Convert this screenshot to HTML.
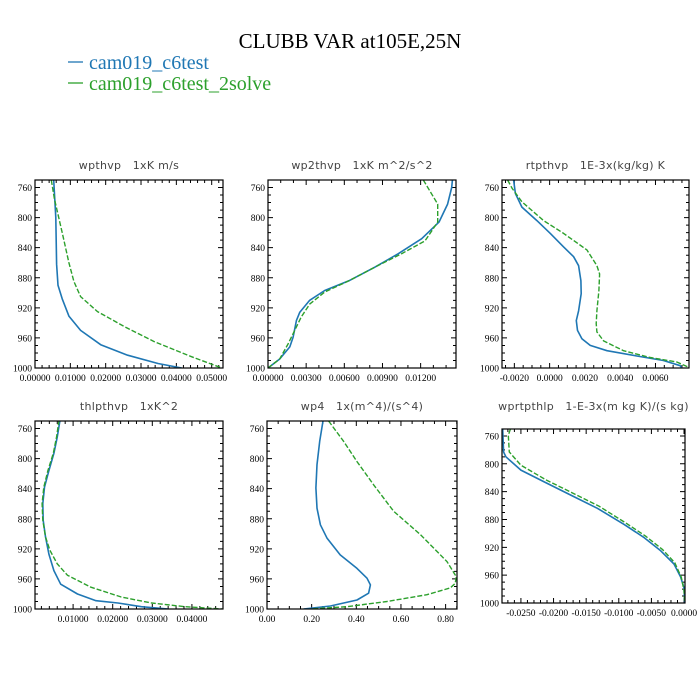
<!DOCTYPE html>
<html><head><meta charset="utf-8"><style>
html,body{margin:0;padding:0;background:#fff;}
svg{display:block;}
.tt{font-family:"Liberation Serif",serif;}
.pt{font-family:"DejaVu Sans","Liberation Sans",sans-serif;font-size:11px;fill:#444;white-space:pre;letter-spacing:0.3px;}
.tl{font-family:"Liberation Serif",serif;font-size:9.5px;fill:#000;}
</style></head><body>
<svg id="chart" width="700" height="700" viewBox="0 0 700 700">
<text class="tt" x="350" y="48" font-size="21" text-anchor="middle">CLUBB VAR at105E,25N</text>
<g>
<line x1="68" y1="62" x2="83" y2="62" stroke="#1f77b4" stroke-width="1.3"/>
<text class="tt" x="89" y="69" font-size="20" fill="#1f77b4">cam019_c6test</text>
<line x1="68" y1="83" x2="83" y2="83" stroke="#2ca02c" stroke-width="1.3"/>
<text class="tt" x="89" y="90" font-size="20" fill="#2ca02c">cam019_c6test_2solve</text>
</g>
</svg>
<script>
const panelTitles=["wpthvp   1xK m/s","wp2thvp   1xK m^2/s^2","rtpthvp   1E-3x(kg/kg) K","thlpthvp   1xK^2","wp4   1x(m^4)/(s^4)","wprtpthlp   1-E-3x(m kg K)/(s kg)"];
const yTicks=[760,800,840,880,920,960,1000];
const xTicks1=[0,0.01,0.02,0.03,0.04,0.05];
const xLabels1=["0.00000","0.01000","0.02000","0.03000","0.04000","0.05000"];
const xTicks2=[0,0.003,0.006,0.009,0.012];
const xLabels2=["0.00000","0.00300","0.00600","0.00900","0.01200"];
const xTicks3=[-0.002,0,0.002,0.004,0.006];
const xLabels3=["-0.0020","0.0000","0.0020","0.0040","0.0060"];
const xTicks4=[0.01,0.02,0.03,0.04];
const xLabels4=["0.01000","0.02000","0.03000","0.04000"];
const xTicks5=[0,0.2,0.4,0.6,0.8];
const xLabels5=["0.00","0.20","0.40","0.60","0.80"];
const xTicks6=[-0.025,-0.02,-0.015,-0.01,-0.005,0];
const xLabels6=["-0.0250","-0.0200","-0.0150","-0.0100","-0.0050","0.0000"];

const p1Blue=[750,800,862,890,908,931,950,969,983,994,1000];
const v1Blue=[0.0053,0.0059,0.0061,0.0065,0.0077,0.0096,0.0129,0.0186,0.0262,0.0348,0.0415];
const p1Green=[750,775,820,860,885,905,925,945,965,985,1000];
const v1Green=[0.0046,0.0055,0.0077,0.0096,0.011,0.0129,0.0177,0.0253,0.0338,0.0443,0.0529];

const p2Blue=[750,760,782,806,828,848,866,884,897,910,926,937,959,972,988,1000];
const v2Blue=[0.0145,0.01444,0.01412,0.01344,0.01208,0.01024,0.0084,0.00636,0.00446,0.00328,0.00249,0.00223,0.00197,0.00171,0.00092,0];
const p2Green=[750,782,806,831,848,866,884,899,915,932,950,968,988,1000];
const v2Green=[0.01221,0.01334,0.01334,0.01234,0.0105,0.0084,0.00636,0.00446,0.00328,0.00262,0.0021,0.00158,0.00092,0];

const p3Blue=[750,768,786,804,821,839,852,864,884,901,924,937,950,961,970,977,984,990,997,1000];
const v3Blue=[-0.00204,-0.00194,-0.00157,-0.00072,0.00004,0.00079,0.00136,0.00164,0.00177,0.00179,0.00164,0.00151,0.00158,0.00183,0.0023,0.00325,0.00494,0.00645,0.0074,0.00749];
const p3Green=[750,761,779,804,821,843,864,875,897,924,941,952,964,977,986,992,999];
const v3Green=[-0.00238,-0.00213,-0.00157,-0.00034,0.00079,0.00211,0.00268,0.00283,0.00279,0.00268,0.00264,0.00268,0.00306,0.00419,0.0057,0.00721,0.00787];

const p4Blue=[749,771,793,816,838,860,882,904,927,949,967,980,989,992,997,1000];
const v4Blue=[0.00669,0.006,0.00516,0.00388,0.00278,0.00235,0.00244,0.00303,0.00388,0.00516,0.00686,0.0111,0.01578,0.0213,0.02725,0.034];
const p4Green=[749,771,793,816,838,860,882,904,922,940,955,971,984,992,997,1000];
const v4Green=[0.00643,0.00584,0.00499,0.00363,0.00261,0.00218,0.00235,0.00303,0.00414,0.006,0.00856,0.0145,0.02215,0.0298,0.0383,0.04764];

const p5Blue=[750,777,808,839,866,888,906,928,946,959,968,979,988,996,1000];
const v5Blue=[0.251,0.236,0.224,0.219,0.224,0.239,0.269,0.328,0.403,0.448,0.463,0.455,0.403,0.284,0.164];
const p5Green=[750,777,804,835,870,901,937,957,966,972,981,990,997,1000];
const v5Green=[0.276,0.343,0.403,0.478,0.567,0.687,0.806,0.848,0.843,0.821,0.716,0.537,0.358,0.194];

const p6Blue=[750,783,790,809,826,845,864,887,906,925,944,963,978,1000];
const v6Blue=[-0.0278,-0.02765,-0.0273,-0.025,-0.02143,-0.01735,-0.01327,-0.00918,-0.00612,-0.00357,-0.00153,-0.00051,0,0.0001];
const p6Green=[750,759,783,802,823,842,861,885,904,923,942,963,982,1000];
const v6Green=[-0.02662,-0.02693,-0.02678,-0.025,-0.02117,-0.01709,-0.013,-0.00893,-0.00587,-0.00332,-0.00143,-0.00041,0,0.0001];

const NS="http://www.w3.org/2000/svg";
const svg=document.getElementById('chart');
function mk(tag,attrs,parent){const e=document.createElementNS(NS,tag);for(const k in attrs)e.setAttribute(k,attrs[k]);(parent||svg).appendChild(e);return e;}

const panels=[
 {x0:35,x1:223,y0:180,y1:368,ty:169,d:[0,0.0532],xt:xTicks1,xl:xLabels1,minor:0.002,pb:p1Blue,vb:v1Blue,pg:p1Green,vg:v1Green},
 {x0:268,x1:456,y0:180,y1:368,ty:169,d:[0,0.01478],xt:xTicks2,xl:xLabels2,minor:0.001,pb:p2Blue,vb:v2Blue,pg:p2Green,vg:v2Green},
 {x0:502,x1:689,y0:180,y1:368,ty:169,d:[-0.0027,0.0079],xt:xTicks3,xl:xLabels3,minor:0.0005,pb:p3Blue,vb:v3Blue,pg:p3Green,vg:v3Green},
 {x0:35,x1:223,y0:421,y1:609,ty:410,d:[0.00038,0.04785],xt:xTicks4,xl:xLabels4,minor:0.002,pb:p4Blue,vb:v4Blue,pg:p4Green,vg:v4Green},
 {x0:267,x1:457,y0:421,y1:609,ty:410,d:[0,0.851],xt:xTicks5,xl:xLabels5,minor:0.05,pb:p5Blue,vb:v5Blue,pg:p5Green,vg:v5Green},
 {x0:502,x1:685,y0:429,y1:603,ty:410,d:[-0.0279,0.00015],xt:xTicks6,xl:xLabels6,minor:0.001,pb:p6Blue,vb:v6Blue,pg:p6Green,vg:v6Green}
];

panels.forEach((P,i)=>{
 const g=mk('g',{});
 
 
 const sx=v=>P.x0+(v-P.d[0])/(P.d[1]-P.d[0])*(P.x1-P.x0);
 const sy=p=>P.y0+(p-750)/250*(P.y1-P.y0);
 const clipId='clip'+i;
 const cp=mk('clipPath',{id:clipId},g);
 mk('rect',{x:P.x0,y:P.y0,width:P.x1-P.x0,height:P.y1-P.y0},cp);
 const t=mk('text',{x:(P.x0+P.x1)/2,y:P.ty,'text-anchor':'middle',class:'pt'},g);
 t.textContent=panelTitles[i];
 
 
 let tk='';
 for(let p=750;p<=1000;p+=10){
   const y=sy(p);const L=(p%40===0)?5:3;
   tk+=`M${P.x0},${y}h${L}M${P.x1},${y}h${-L}`;
 }
 const mstart=Math.ceil(P.d[0]/P.minor-1e-6);
 for(let k=mstart;k*P.minor<=P.d[1]+1e-9;k++){
   const v=k*P.minor;const x=sx(v);
   const isMaj=P.xt.some(t=>Math.abs(t-v)<P.minor*0.1);
   const L=isMaj?5:3;
   tk+=`M${x},${P.y1}v${-L}M${x},${P.y0}v${L}`;
 }
 const ticks=mk('path',{d:tk,stroke:'#000','stroke-width':1,fill:'none'},g);
 
 
 yTicks.forEach(p=>{
   const e=mk('text',{x:P.x0-3,y:sy(p)+3.5,'text-anchor':'end',class:'tl'},g);
   e.textContent=p;
   
   
 });
 P.xt.forEach((v,j)=>{
   const e=mk('text',{x:sx(v),y:P.y1+13,'text-anchor':'middle',class:'tl'},g);
   e.textContent=P.xl[j];
   
   
 });
 const lg=mk('g',{'clip-path':`url(#${clipId})`},g);
 const pb=P.pb.map((p,j)=>`${sx(P.vb[j]).toFixed(1)},${sy(p).toFixed(1)}`).join(' ');
 const bl=mk('polyline',{points:pb,fill:'none',stroke:'#1f77b4','stroke-width':1.6,'stroke-linejoin':'round'},lg);
 
 
 const pg=P.pg.map((p,j)=>`${sx(P.vg[j]).toFixed(1)},${sy(p).toFixed(1)}`).join(' ');
 const gl=mk('polyline',{points:pg,fill:'none',stroke:'#2ca02c','stroke-width':1.4,'stroke-dasharray':'5,2','stroke-linejoin':'round'},lg);
 
 
 const fr=mk('rect',{x:P.x0,y:P.y0,width:P.x1-P.x0,height:P.y1-P.y0,fill:'none',stroke:'#000','stroke-width':1.2},g);
 
 
});
</script>
</body></html>
